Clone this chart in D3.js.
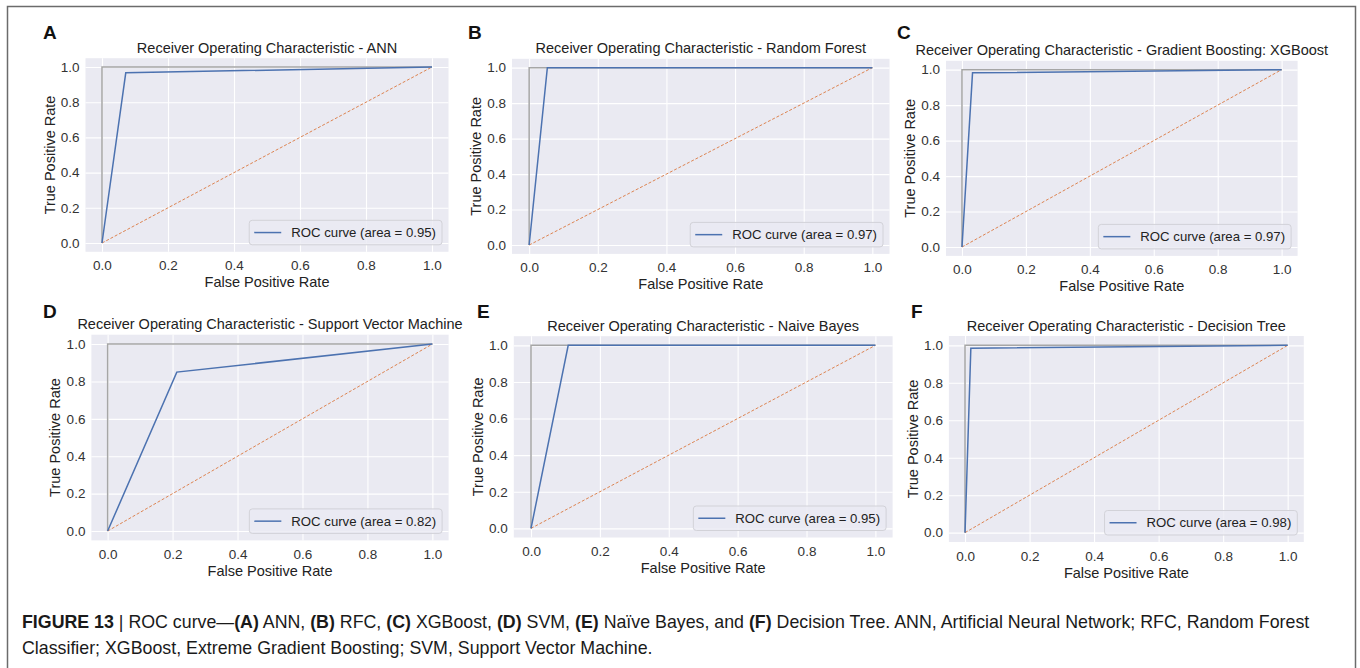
<html>
<head>
<title>ROC curves</title>
<script type="text/javascript" src="https://cdn.jsdelivr.net/npm/d3@7"></script>
<style>
  * { margin: 0; padding: 0; }
  body { background: #ffffff; }
  svg text { font-family: "Liberation Sans", Arial, Helvetica, sans-serif; }
</style>
</head>
<body>
<div id="chart"></div>
<script type="text/javascript">
// data
var panelLetters = ["A", "B", "C", "D", "E", "F"];
var modelNames = ["ANN", "Random Forest", "Gradient Boosting: XGBoost",
  "Support Vector Machine", "Naive Bayes", "Decision Tree"];
var aucValues = [0.95, 0.97, 0.97, 0.82, 0.95, 0.98];
var fprValues = [[0, 0.072, 1], [0, 0.053, 1], [0, 0.033, 1], [0, 0.213, 1], [0, 0.108, 1], [0, 0.018, 1]];
var tprValues = [[0, 0.967, 1], [0, 1, 1], [0, 0.982, 1], [0, 0.85, 1], [0, 1, 1], [0, 0.985, 1]];
var perfectFpr = [0, 0, 1];
var perfectTpr = [0, 1, 1];
var chanceFpr = [0, 1];
var chanceTpr = [0, 1];
var tickValues = [0, 0.2, 0.4, 0.6, 0.8, 1.0];

// layout of each sub-plot (plot area in page pixels, letter position)
var layout = [
  {x0: 85.5, x1: 448.5, y0: 58.2, y1: 251.8, lx: 43, ly: 39},
  {x0: 512, x1: 889.5, y0: 58.8, y1: 253.9, lx: 468, ly: 39},
  {x0: 946, x1: 1297.6, y0: 60.8, y1: 255.9, lx: 897, ly: 39},
  {x0: 91.4, x1: 448.6, y0: 334.7, y1: 540.4, lx: 43, ly: 318},
  {x0: 513.8, x1: 892.6, y0: 336.2, y1: 537.5, lx: 477, ly: 318},
  {x0: 948.9, x1: 1303.8, y0: 336, y1: 542, lx: 911, ly: 318}
];

var W = 1360, H = 668;
var svg = d3.select("#chart").append("svg")
  .attr("width", W).attr("height", H);

// figure frame
svg.append("rect")
  .attr("x", 7.5).attr("y", 6.5)
  .attr("width", 1348).attr("height", 720)
  .attr("fill", "none").attr("stroke", "#6b6b6b").attr("stroke-width", 1.5);

var blue = "#4c72b0", orange = "#dd8452";
var fmt = d3.format(".1f");

layout.forEach(function(L, i) {
  var w = L.x1 - L.x0, h = L.y1 - L.y0;
  var x = d3.scaleLinear().domain([-0.05, 1.05]).range([0, w]);
  var y = d3.scaleLinear().domain([-0.05, 1.05]).range([h, 0]);

  svg.append("text")
    .attr("x", L.lx).attr("y", L.ly)
    .attr("font-size", "19px").attr("font-weight", "bold")
    .attr("fill", "#111")
    .text(panelLetters[i]);

  var g = svg.append("g").attr("transform", "translate(" + L.x0 + "," + L.y0 + ")");

  g.append("rect").attr("width", w).attr("height", h).attr("fill", "#eaeaf2");

  // grid
  var gx = g.append("g").attr("transform", "translate(0," + h + ")")
    .call(d3.axisBottom(x).tickValues(tickValues).tickSize(-h).tickFormat(""));
  var gy = g.append("g")
    .call(d3.axisLeft(y).tickValues(tickValues).tickSize(-w).tickFormat(""));
  [gx, gy].forEach(function(a) {
    a.select(".domain").remove();
    a.selectAll("line").attr("stroke", "#ffffff").attr("stroke-width", 1.1);
  });

  // tick labels
  var ax = g.append("g").attr("transform", "translate(0," + h + ")")
    .call(d3.axisBottom(x).tickValues(tickValues).tickSize(0).tickPadding(9).tickFormat(fmt));
  var ay = g.append("g")
    .call(d3.axisLeft(y).tickValues(tickValues).tickSize(0).tickPadding(6).tickFormat(fmt));
  [ax, ay].forEach(function(a) {
    a.select(".domain").remove();
    a.selectAll("text").attr("font-size", "13.5px").attr("fill", "#333")
      .attr("font-family", "Liberation Sans, Arial, sans-serif");
  });

  var line = d3.line()
    .x(function(d) { return x(d[0]); })
    .y(function(d) { return y(d[1]); });

  g.append("path")
    .attr("d", line(d3.zip(perfectFpr, perfectTpr)))
    .attr("fill", "none").attr("stroke", "#a6a6a6").attr("stroke-width", 1.5);

  g.append("path")
    .attr("d", line(d3.zip(chanceFpr, chanceTpr)))
    .attr("fill", "none").attr("stroke", orange).attr("stroke-width", 1)
    .attr("stroke-dasharray", "3,1.8");

  g.append("path")
    .attr("d", line(d3.zip(fprValues[i], tprValues[i])))
    .attr("fill", "none").attr("stroke", blue).attr("stroke-width", 1.5);

  // title and axis labels
  svg.append("text")
    .attr("x", (L.x0 + L.x1) / 2).attr("y", L.y0 - 5.5)
    .attr("text-anchor", "middle").attr("font-size", "14.5px").attr("fill", "#222")
    .text("Receiver Operating Characteristic - " + modelNames[i]);

  svg.append("text")
    .attr("x", (L.x0 + L.x1) / 2).attr("y", L.y1 + 35.5)
    .attr("text-anchor", "middle").attr("font-size", "14.5px").attr("fill", "#222")
    .text("False Positive Rate");

  svg.append("text")
    .attr("transform", "translate(" + (L.x0 - 31) + "," + ((L.y0 + L.y1) / 2) + ") rotate(-90)")
    .attr("text-anchor", "middle").attr("font-size", "14.5px").attr("fill", "#222")
    .text("True Positive Rate");

  // legend
  var lg = g.append("g");
  var lt = lg.append("text")
    .attr("font-size", "13.2px").attr("fill", "#222")
    .text("ROC curve (area = " + d3.format(".2f")(aucValues[i]) + ")");
  var tw = lt.node().getComputedTextLength();
  var bw = 5 + 27 + 10 + tw + 6, bh = 24.5;
  var bx = w - 6.5 - bw, by = h - 7 - bh;
  lg.insert("rect", "text")
    .attr("x", bx).attr("y", by).attr("width", bw).attr("height", bh)
    .attr("rx", 3).attr("fill", "#eaeaf2").attr("fill-opacity", 0.8)
    .attr("stroke", "#d2d2d8").attr("stroke-width", 1);
  lg.append("line")
    .attr("x1", bx + 5).attr("x2", bx + 32)
    .attr("y1", by + bh / 2).attr("y2", by + bh / 2)
    .attr("stroke", blue).attr("stroke-width", 1.5);
  lt.attr("x", bx + 42).attr("y", by + bh / 2 + 4.7);
});

// caption
var captionLines = [
  [["FIGURE 13", true], [" | ROC curve\u2014", false], ["(A)", true], [" ANN, ", false], ["(B)", true],
   [" RFC, ", false], ["(C)", true], [" XGBoost, ", false], ["(D)", true], [" SVM, ", false],
   ["(E)", true], [" Na\u00efve Bayes, and ", false], ["(F)", true],
   [" Decision Tree. ANN, Artificial Neural Network; RFC, Random Forest", false]],
  [["Classifier; XGBoost, Extreme Gradient Boosting; SVM, Support Vector Machine.", false]]
];
var captionY = [628, 654];
captionLines.forEach(function(parts, k) {
  var t = svg.append("text").attr("x", 22).attr("y", captionY[k])
    .attr("font-size", "17.8px").attr("fill", "#1a1a1a");
  parts.forEach(function(p) {
    t.append("tspan").attr("font-weight", p[1] ? "bold" : "normal").text(p[0]);
  });
});
</script>
</body>
</html>
